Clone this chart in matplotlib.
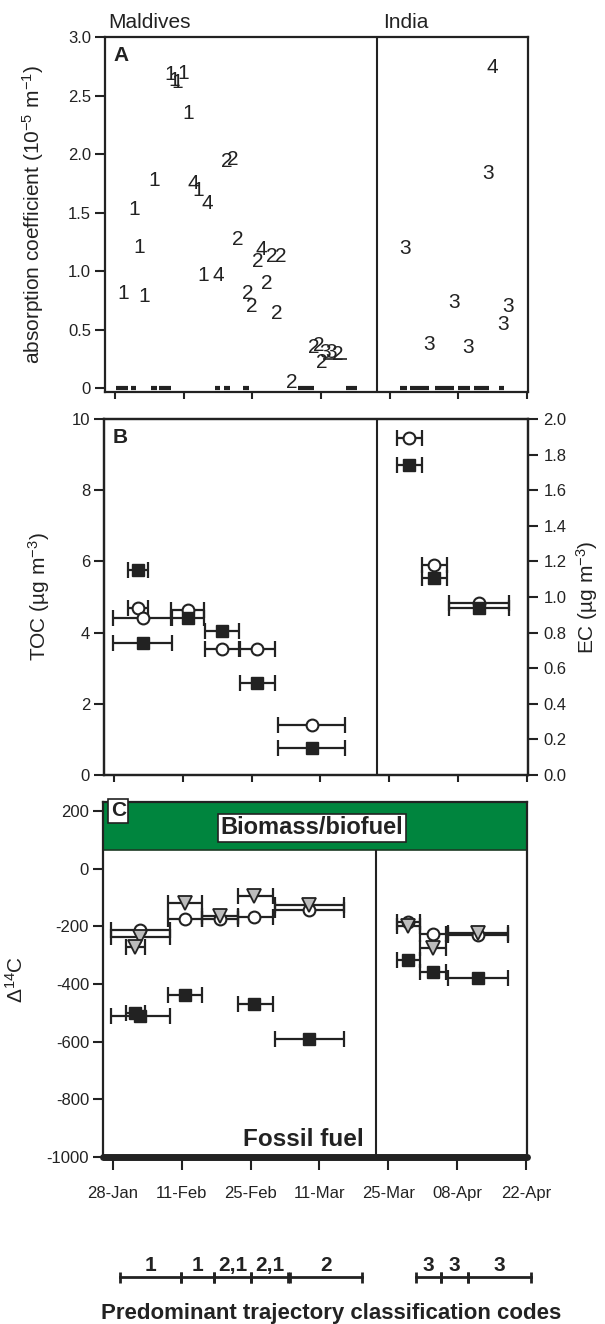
import matplotlib
matplotlib.use("Agg")
import matplotlib.pyplot as plt
import numpy as np

plt.rcParams['font.family'] = ['Liberation Sans', 'DejaVu Sans']
plt.rcParams['mathtext.fontset'] = 'custom'
plt.rcParams['mathtext.rm'] = 'Liberation Sans'
plt.rcParams['mathtext.it'] = 'Liberation Sans:italic'
plt.rcParams['axes.unicode_minus'] = False

INK = "#222222"
GREEN = "#00853e"
GREY = "#bcbcbc"

# ---------------- data (x = day of year) ----------------
date_ticks = [28, 42, 56, 70, 84, 98, 112]
date_labels = ["28-Jan", "11-Feb", "25-Feb", "11-Mar", "25-Mar", "08-Apr", "22-Apr"]

# panel A: daily absorption coefficient, plotted as trajectory code digits
absA_day = [29.8, 33.9, 32.9, 32.0, 36.0, 39.2, 40.2, 40.8, 41.9, 42.9,
            44.0, 45.0, 46.8, 46.1, 49.0, 50.8, 52.0, 53.1, 57.8, 57.1,
            59.9, 61.8, 58.9, 55.1, 56.0, 61.0, 68.6, 69.5, 70.8, 72.0,
            73.5, 70.2, 64.0,
            105.0, 104.0, 87.1, 97.2, 108.1, 107.2, 92.1, 100.0]
absA_val = [0.81, 0.78, 1.20, 1.53, 1.77, 2.68, 2.63, 2.61, 2.69, 2.35,
            1.75, 1.69, 1.58, 0.96, 0.96, 1.94, 1.95, 1.27, 1.18, 1.08,
            1.12, 1.12, 0.89, 0.81, 0.70, 0.64, 0.35, 0.36, 0.30, 0.30,
            0.29, 0.22, 0.05,
            2.74, 1.83, 1.19, 0.73, 0.70, 0.54, 0.37, 0.35]
absA_code = ['1', '1', '1', '1', '1', '1', '1', '1', '1', '1',
             '4', '1', '4', '1', '4', '2', '2', '2', '4', '2',
             '2', '2', '2', '2', '2', '2', '2', '2', '3', '3',
             '2', '2', '2',
             '4', '3', '3', '3', '3', '3', '3', '3']
# days without data (dashes on the zero line)
gapA_lo = [28.2, 31.4, 35.3, 37.0, 48.4, 50.2, 54.2, 65.4, 75.2,
           86.2, 88.1, 93.2, 97.9, 101.1, 106.3]
gapA_hi = [30.6, 32.3, 36.5, 39.4, 49.5, 51.5, 55.4, 68.6, 77.4,
           87.5, 92.1, 97.1, 100.4, 104.2, 107.3]

# panel B: TOC (left axis) and EC (right axis) with sampling periods
tocB_day = [32.9, 34.0, 43.0, 50.0, 57.2, 68.2, 88.1, 93.1, 102.2]
tocB_val = [4.69, 4.42, 4.64, 3.53, 3.53, 1.41, 9.47, 5.89, 4.83]
ecB_day = [32.9, 33.9, 43.0, 50.0, 57.2, 68.2, 88.1, 93.1, 102.2]
ecB_val = [1.154, 0.744, 0.882, 0.808, 0.518, 0.154, 1.744, 1.104, 0.936]
perB_lo = [30.9, 27.8, 39.6, 46.5, 53.7, 61.3, 85.5, 90.6, 96.1]
perB_hi = [34.9, 39.8, 46.4, 53.5, 60.7, 75.0, 90.7, 95.7, 108.3]

# panel C: radiocarbon
circC_day = [33.6, 42.65, 49.7, 56.8, 67.9, 88.0, 93.1, 102.3]
circC_val = [-212, -174, -174, -168, -143, -186, -226, -231]
circC_lo = [27.6, 39.2, 46.2, 53.5, 61.0, 85.7, 90.5, 96.2]
circC_hi = [39.7, 46.2, 53.5, 60.5, 75.0, 90.5, 95.8, 108.3]

triC_day = [33.6, 32.6, 42.65, 49.7, 56.8, 67.9, 88.0, 93.1, 102.3]
triC_val = [-237, -271, -119, -166, -94, -126, -200, -274, -222]
triC_lo = [27.6, 30.7, 39.2, 46.2, 53.5, 61.0, 85.7, 90.5, 96.2]
triC_hi = [39.7, 34.6, 46.2, 53.5, 60.5, 75.0, 90.5, 95.8, 108.3]

sqC_day = [32.6, 33.6, 42.65, 56.8, 67.9, 88.0, 93.1, 102.3]
sqC_val = [-501, -510, -438, -470, -592, -317, -360, -379]
sqC_lo = [30.7, 27.6, 39.2, 53.5, 61.0, 85.7, 90.5, 96.2]
sqC_hi = [34.6, 39.7, 46.2, 60.5, 75.0, 90.5, 95.8, 108.3]

# predominant trajectory codes per sampling period
code_lo = [29.0, 41.4, 48.3, 55.8, 63.7, 89.3, 94.5, 100.0]
code_hi = [41.4, 48.3, 55.8, 63.3, 78.4, 94.5, 100.0, 112.9]
code_txt = ['1', '1', '2,1', '2,1', '2', '3', '3', '3']

W, H = 605, 1324
fig = plt.figure(figsize=(W / 100, H / 100), dpi=100)


def box(l, t, r, b):
    return [l / W, 1 - b / H, (r - l) / W, (b - t) / H]


XLIM = (26.0, 112.2)
SPLIT = 81.4


def style(ax):
    for s in ax.spines.values():
        s.set_linewidth(1.6)
        s.set_color(INK)
    ax.set_xlim(*XLIM)
    ax.set_xticks(date_ticks)
    ax.tick_params(axis='x', direction='out', length=5, width=1.5, color=INK,
                   labelbottom=False)
    ax.tick_params(axis='y', direction='out', length=7, width=1.5, color=INK,
                   labelsize=12, pad=3, labelcolor=INK)


def err(ax, d, v, lo, hi):
    d = np.array(d)
    xe = [d - np.array(lo), np.array(hi) - d]
    ax.errorbar(d, v, xerr=xe, fmt='none', ecolor=INK, elinewidth=1.6,
                capsize=5.5, capthick=1.6, zorder=3)


# ---------------- panel A ----------------
axA = fig.add_axes(box(105, 37, 528, 392))
style(axA)
axA.set_ylim(-0.034, 3.0)
axA.set_yticks([0, 0.5, 1.0, 1.5, 2.0, 2.5, 3.0])
axA.set_yticklabels(['0', '0.5', '1.0', '1.5', '2.0', '2.5', '3.0'])
axA.axvline(SPLIT, color=INK, lw=1.5)
for d, v, c in zip(absA_day, absA_val, absA_code):
    axA.text(d, v, c, ha='center', va='center', fontsize=15, color=INK)
axA.hlines([0] * len(gapA_lo), gapA_lo, gapA_hi, color=INK, lw=3)
axA.hlines(0.25, 70.5, 75.3, color=INK, lw=1.2)
axA.text(0.02, 0.975, 'A', transform=axA.transAxes, fontsize=15,
         weight='bold', va='top', ha='left', color=INK)
axA.set_ylabel(r'absorption coefficient (10$^{-5}$ m$^{-1}$)', fontsize=15,
               color=INK)
axA.yaxis.set_label_coords(-0.139, 0.5)
fig.text(108 / W, 1 - 23 / H, 'Maldives', fontsize=15, va='center', color=INK)
fig.text(383 / W, 1 - 23 / H, 'India', fontsize=15, va='center', color=INK)

# ---------------- panel B ----------------
axB = fig.add_axes(box(104, 419, 528, 775))
style(axB)
axB.set_ylim(0, 10)
axB.set_yticks([0, 2, 4, 6, 8, 10])
axB.axvline(SPLIT, color=INK, lw=1.5)
err(axB, tocB_day, tocB_val, perB_lo, perB_hi)
axB.plot(tocB_day, tocB_val, 'o', ms=8.5, mfc='white', mec=INK, mew=1.5,
         zorder=4)
axB.text(0.02, 0.975, 'B', transform=axB.transAxes, fontsize=15,
         weight='bold', va='top', ha='left', color=INK)
axB.set_ylabel('TOC (µg m$^{-3}$)', fontsize=15, color=INK)
axB.yaxis.set_label_coords(-0.123, 0.5)

axE = axB.twinx()
style(axE)
axE.set_ylim(0, 2.0)
axE.set_yticks(np.arange(0, 2.01, 0.2))
axE.set_yticklabels(['%.1f' % t for t in np.arange(0, 2.01, 0.2)])
axE.tick_params(axis='y', direction='out', length=7, width=1.5, pad=4,
                labelsize=12)
err(axE, ecB_day, ecB_val, perB_lo, perB_hi)
axE.plot(ecB_day, ecB_val, 's', ms=8.5, mfc=INK, mec=INK, zorder=5)
axE.set_ylabel('EC (µg m$^{-3}$)', fontsize=15, color=INK)
axE.yaxis.set_label_coords(1.108, 0.5)

# ---------------- panel C ----------------
axC = fig.add_axes(box(103, 802, 527, 1157))
style(axC)
axC.set_ylim(-1000, 231)
axC.set_yticks(np.arange(-1000, 201, 200))
axC.axhspan(64, 231, facecolor=GREEN, edgecolor='#1d3b25', lw=1.2, zorder=0)
axC.vlines(SPLIT, -1000, 64, color=INK, lw=1.5)
axC.spines['bottom'].set_linewidth(5)
axC.spines['bottom'].set_capstyle('round')
axC.tick_params(axis='x', labelbottom=True, length=9, pad=12, labelsize=12,
                labelcolor=INK)
axC.set_xticklabels(date_labels)

err(axC, circC_day, circC_val, circC_lo, circC_hi)
err(axC, triC_day, triC_val, triC_lo, triC_hi)
err(axC, sqC_day, sqC_val, sqC_lo, sqC_hi)
axC.plot(circC_day, circC_val, 'o', ms=8.5, mfc='white', mec=INK, mew=1.5,
         zorder=4)
axC.plot(triC_day, triC_val, 'v', ms=9.5, mfc=GREY, mec=INK, mew=1.3,
         zorder=5)
axC.plot(sqC_day, sqC_val, 's', ms=8.5, mfc=INK, mec=INK, zorder=5)

axC.text(0.018, 200, 'C', transform=axC.get_yaxis_transform(), fontsize=15,
         weight='bold', va='center', ha='left', color=INK,
         bbox=dict(boxstyle='square,pad=0.12', fc='white', ec=INK, lw=1.2))
axC.text(0.493, 141, 'Biomass/biofuel', transform=axC.get_yaxis_transform(),
         fontsize=17, weight='bold', va='center', ha='center', color=INK,
         bbox=dict(boxstyle='square,pad=0.12', fc='white', ec=INK, lw=1.2))
axC.text(79.0, -938, 'Fossil fuel', fontsize=17.5, weight='bold',
         ha='right', va='center', color=INK)
axC.set_ylabel(r'$\Delta^{14}$C', fontsize=15, color=INK)
axC.yaxis.set_label_coords(-0.179, 0.5)

# ---------------- trajectory codes ----------------
axT = fig.add_axes(box(105, 1250, 528, 1290))
axT.set_xlim(*XLIM)
axT.set_ylim(0, 1)
axT.set_axis_off()
for lo, hi, t in zip(code_lo, code_hi, code_txt):
    axT.plot([lo, hi], [0.325, 0.325], color=INK, lw=2, clip_on=False)
    axT.vlines([lo, hi], 0.17, 0.46, color=INK, lw=2, clip_on=False)
    axT.text((lo + hi) / 2, 0.62, t, ha='center', va='center', fontsize=15,
             weight='bold', color=INK, clip_on=False)

fig.text(331 / W, 1 - 1313 / H, 'Predominant trajectory classification codes',
         ha='center', va='center', fontsize=16, weight='bold', color=INK)

fig.savefig('out.png', dpi=100)
